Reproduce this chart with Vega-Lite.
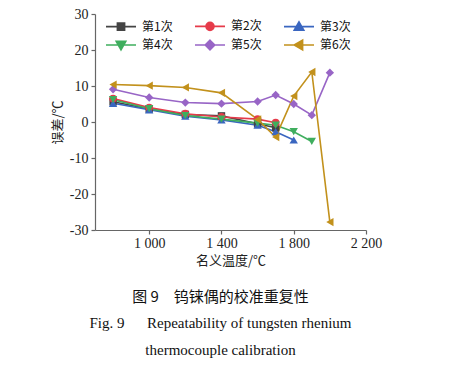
{
  "$schema": "https://vega.github.io/schema/vega-lite/v6.json",
  "width": 271,
  "height": 216,
  "padding": {"left": 51, "top": 7, "right": 5, "bottom": 5},
  "background": "white",
  "config": {
    "view": {"stroke": null},
    "font": "Liberation Serif",
    "axis": {
      "domainColor": "#666666", "tickColor": "#666666", "domainWidth": 1.2, "tickWidth": 1.2,
      "tickSize": 4, "labelFont": "Liberation Serif", "labelFontSize": 14, "labelColor": "#222222",
      "titleFont": "Noto Sans CJK SC", "titleFontSize": 13, "titleFontWeight": "normal", "titleColor": "#222222",
      "grid": false, "labelFlush": false
    }
  },
  "title": {
    "text": "图 9　钨铼偶的校准重复性",
    "subtitle": ["Fig. 9\u2003\u2002Repeatability of tungsten rhenium", "thermocouple calibration"],
    "orient": "bottom",
    "anchor": "middle",
    "dx": -10,
    "font": "Noto Sans CJK SC",
    "fontSize": 15,
    "fontWeight": "normal",
    "color": "#111111",
    "subtitleFont": "Liberation Serif",
    "subtitleFontSize": 15,
    "subtitleColor": "#111111",
    "subtitleLineHeight": 27,
    "subtitlePadding": 11,
    "offset": 23
  },
  "data": {
    "values": [
      {"t": 800, "e": 5.6, "s": "第1次"}, {"t": 1000, "e": 3.6, "s": "第1次"}, {"t": 1200, "e": 2.1, "s": "第1次"}, {"t": 1400, "e": 1.7, "s": "第1次"}, {"t": 1600, "e": -0.5, "s": "第1次"}, {"t": 1700, "e": -1.6, "s": "第1次"},
      {"t": 800, "e": 6.5, "s": "第2次"}, {"t": 1000, "e": 4.0, "s": "第2次"}, {"t": 1200, "e": 2.3, "s": "第2次"}, {"t": 1400, "e": 1.4, "s": "第2次"}, {"t": 1600, "e": 0.8, "s": "第2次"}, {"t": 1700, "e": -0.2, "s": "第2次"},
      {"t": 800, "e": 5.2, "s": "第3次"}, {"t": 1000, "e": 3.4, "s": "第3次"}, {"t": 1200, "e": 1.6, "s": "第3次"}, {"t": 1400, "e": 0.6, "s": "第3次"}, {"t": 1600, "e": -0.9, "s": "第3次"}, {"t": 1700, "e": -2.7, "s": "第3次"}, {"t": 1800, "e": -5.0, "s": "第3次"},
      {"t": 800, "e": 6.2, "s": "第4次"}, {"t": 1000, "e": 3.7, "s": "第4次"}, {"t": 1200, "e": 1.8, "s": "第4次"}, {"t": 1400, "e": 0.8, "s": "第4次"}, {"t": 1600, "e": -0.3, "s": "第4次"}, {"t": 1700, "e": -0.9, "s": "第4次"}, {"t": 1800, "e": -2.7, "s": "第4次"}, {"t": 1900, "e": -5.4, "s": "第4次"},
      {"t": 800, "e": 9.1, "s": "第5次"}, {"t": 1000, "e": 6.8, "s": "第5次"}, {"t": 1200, "e": 5.4, "s": "第5次"}, {"t": 1400, "e": 5.1, "s": "第5次"}, {"t": 1600, "e": 5.7, "s": "第5次"}, {"t": 1700, "e": 7.5, "s": "第5次"}, {"t": 1800, "e": 5.0, "s": "第5次"}, {"t": 1900, "e": 1.9, "s": "第5次"}, {"t": 2000, "e": 13.7, "s": "第5次"},
      {"t": 800, "e": 10.4, "s": "第6次"}, {"t": 1000, "e": 10.1, "s": "第6次"}, {"t": 1200, "e": 9.6, "s": "第6次"}, {"t": 1400, "e": 8.1, "s": "第6次"}, {"t": 1600, "e": 0.7, "s": "第6次"}, {"t": 1700, "e": -4.2, "s": "第6次"}, {"t": 1800, "e": 7.2, "s": "第6次"}, {"t": 1900, "e": 13.9, "s": "第6次"}, {"t": 2000, "e": -27.8, "s": "第6次"}
    ]
  },
  "encoding": {
    "x": {
      "field": "t", "type": "quantitative", "title": "名义温度/℃",
      "scale": {"domain": [700, 2200], "nice": false, "zero": false},
      "axis": {"values": [1000, 1400, 1800, 2200], "labelExpr": "replace(format(datum.value, ','), ',', ' ')", "titlePadding": 4, "labelPadding": 2}
    },
    "y": {
      "field": "e", "type": "quantitative", "title": "误差/℃",
      "scale": {"domain": [-30, 30], "nice": false},
      "axis": {"values": [-30, -20, -10, 0, 10, 20, 30], "labelExpr": "replace(format(datum.value, 'd'), '\u2212', '-')", "titlePadding": 5, "labelPadding": 3}
    },
    "color": {
      "field": "s", "type": "nominal",
      "scale": {"domain": ["第1次", "第2次", "第3次", "第4次", "第5次", "第6次"], "range": ["#444444", "#e63b4a", "#3a66c0", "#3fae5e", "#9865c6", "#c2911c"]},
      "legend": {
        "title": null, "orient": "none", "legendX": 8, "legendY": 6, "direction": "horizontal", "columns": 3,
        "labelFont": "Noto Sans CJK SC", "labelFontSize": 12, "labelColor": "#111111",
        "symbolSize": 64, "symbolOffset": 12, "labelOffset": 15, "columnPadding": 18, "rowPadding": 3,
        "symbolStrokeWidth": 1.6, "symbolOpacity": 1,
        "encode": {
          "symbols": {
            "update": {
              "shape": {"signal": "datum.value==='第1次' ? 'M-3.75,0H3.75M-0.9,-0.9H0.9V0.9H-0.9Z' : datum.value==='第2次' ? 'M-3.75,0H3.75M1,0A1,1 0 1,1 -1,0A1,1 0 1,1 1,0Z' : datum.value==='第3次' ? 'M-3.75,0H3.75M0,-1.2L1.2,0.9L-1.2,0.9Z' : datum.value==='第4次' ? 'M-3.75,0H3.75M0,1.2L1.2,-0.9L-1.2,-0.9Z' : datum.value==='第5次' ? 'M-3.75,0H3.75M0,-1.2L1.2,0L0,1.2L-1.2,0Z' : 'M-3.75,0H3.75M-1.2,0L0.9,-1.2L0.9,1.2Z'"},
              "fill": {"scale": "color", "field": "value"},
              "stroke": {"scale": "color", "field": "value"},
              "strokeWidth": {"value": 1.6}
            }
          }
        }
      }
    }
  },
  "layer": [
    {"mark": {"type": "line", "strokeWidth": 1.6}, "encoding": {"detail": {"field": "s"}}},
    {"transform": [{"filter": {"field": "s", "equal": "第1次"}}], "mark": {"type": "point", "shape": "square", "filled": true, "opacity": 1, "size": 55}},
    {"transform": [{"filter": {"field": "s", "equal": "第2次"}}], "mark": {"type": "point", "shape": "circle", "filled": true, "opacity": 1, "size": 60}},
    {"transform": [{"filter": {"field": "s", "equal": "第3次"}}], "mark": {"type": "point", "shape": "triangle-up", "filled": true, "opacity": 1, "size": 70}},
    {"transform": [{"filter": {"field": "s", "equal": "第4次"}}], "mark": {"type": "point", "shape": "triangle-down", "filled": true, "opacity": 1, "size": 70}},
    {"transform": [{"filter": {"field": "s", "equal": "第5次"}}], "mark": {"type": "point", "shape": "diamond", "filled": true, "opacity": 1, "size": 70}},
    {"transform": [{"filter": {"field": "s", "equal": "第6次"}}], "mark": {"type": "point", "shape": "triangle-left", "filled": true, "opacity": 1, "size": 70}}
  ]
}
